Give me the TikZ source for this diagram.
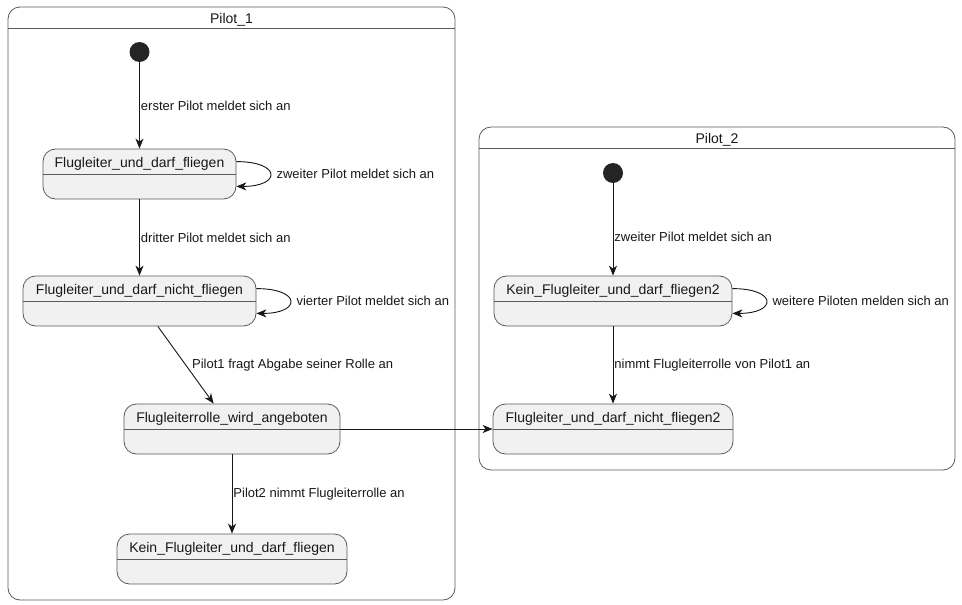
\documentclass[tikz,border=0pt]{standalone}
\usepackage{fontspec}
\setmainfont{Liberation Sans}
\usetikzlibrary{arrows.meta,positioning,calc}
\definecolor{statefill}{HTML}{F1F1F1}
\definecolor{stateline}{HTML}{5A5A5A}
\definecolor{ink}{HTML}{181818}

\begin{document}
\begin{tikzpicture}[
  x=1pt, y=-1pt,
  cluster/.style={draw=stateline, fill=white, rounded corners=12pt, line width=0.8pt, inner sep=0pt},
  state/.style={draw=stateline, fill=statefill, rounded corners=12.5pt, minimum height=50pt, inner sep=0pt, line width=0.8pt},
  statename/.style={anchor=north, minimum height=26pt, inner sep=0pt, yshift=-2pt, font=\fontsize{14}{16}\selectfont, text=ink},
  initstate/.style={circle, fill=ink!95!white, minimum size=20pt, inner sep=0pt},
  arrow/.style={-{Stealth[length=10pt,width=8pt,inset=3pt]}, draw=ink, line width=0.9pt},
  lbl/.style={font=\fontsize{13}{15}\selectfont, text=ink, inner sep=1pt, anchor=west}
]
\useasboundingbox (0,0) rectangle (962,605);

% containers
\node[cluster, minimum width=447pt, minimum height=593pt] (pilot1) at (231.5,303.5) {};
\node[cluster, minimum width=476pt, minimum height=343pt] (pilot2) at (717,298.5) {};
\foreach \c in {pilot1,pilot2}
  \draw[stateline, line width=0.8pt] ($(\c.north west)+(0,22)$) -- ($(\c.north east)+(0,22)$);
\node[statename, minimum height=22pt] (pilot1title) at (pilot1.north) {Pilot\_1};
\node[statename, minimum height=22pt] (pilot2title) at (pilot2.north) {Pilot\_2};

% Pilot_1
\node[initstate] (init1) at (139.5,52) {};
\node[state, minimum width=193pt] (flfl) at (139.5,174) {};
\node[state, minimum width=233pt] (flnf) at (139.5,301) {};
\node[state, minimum width=216pt] (rolle) at (232,429) {};
\node[state, minimum width=230pt] (keinfl) at (232,559) {};

% Pilot_2
\node[initstate] (init2) at (613,173) {};
\node[state, minimum width=238pt] (keinfl2) at (613,301) {};
\node[state, minimum width=240pt] (flnf2) at (613,429) {};

\foreach \s in {flfl,flnf,rolle,keinfl,keinfl2,flnf2}
  \draw[stateline, line width=0.8pt] ($(\s.north west)+(0,26)$) -- ($(\s.north east)+(0,26)$);

\node[statename] at (flfl.north) {Flugleiter\_und\_darf\_fliegen};
\node[statename] at (flnf.north) {Flugleiter\_und\_darf\_nicht\_fliegen};
\node[statename] at (rolle.north) {Flugleiterrolle\_wird\_angeboten};
\node[statename] at (keinfl.north) {Kein\_Flugleiter\_und\_darf\_fliegen};
\node[statename] at (keinfl2.north) {Kein\_Flugleiter\_und\_darf\_fliegen2};
\node[statename] at (flnf2.north) {Flugleiter\_und\_darf\_nicht\_fliegen2};

% transitions
\draw[arrow] (init1) -- node[lbl] {erster Pilot meldet sich an} (flfl);
\draw[arrow] ($(flfl.north east)+(0,13)$) .. controls +(45,0) and +(45,0) ..
  node[lbl, pos=0.5, xshift=5pt] {zweiter Pilot meldet sich an} ($(flfl.south east)+(0,-13)$);
\draw[arrow] (flfl) -- node[lbl] {dritter Pilot meldet sich an} (flnf);
\draw[arrow] ($(flnf.north east)+(0,13)$) .. controls +(45,0) and +(45,0) ..
  node[lbl, pos=0.5, xshift=5pt] {vierter Pilot meldet sich an} ($(flnf.south east)+(0,-13)$);
\draw[arrow] (flnf) -- node[lbl, xshift=5pt] {Pilot1 fragt Abgabe seiner Rolle an} (rolle);
\draw[arrow] (rolle) -- node[lbl] {Pilot2 nimmt Flugleiterrolle an} (keinfl);
\draw[arrow] (init2) -- node[lbl, pos=0.58] {zweiter Pilot meldet sich an} (keinfl2);
\draw[arrow] ($(keinfl2.north east)+(0,13)$) .. controls +(45,0) and +(45,0) ..
  node[lbl, pos=0.5, xshift=5pt] {weitere Piloten melden sich an} ($(keinfl2.south east)+(0,-13)$);
\draw[arrow] (keinfl2) -- node[lbl] {nimmt Flugleiterrolle von Pilot1 an} (flnf2);
\draw[arrow] (rolle) -- (flnf2);
\end{tikzpicture}
\end{document}
